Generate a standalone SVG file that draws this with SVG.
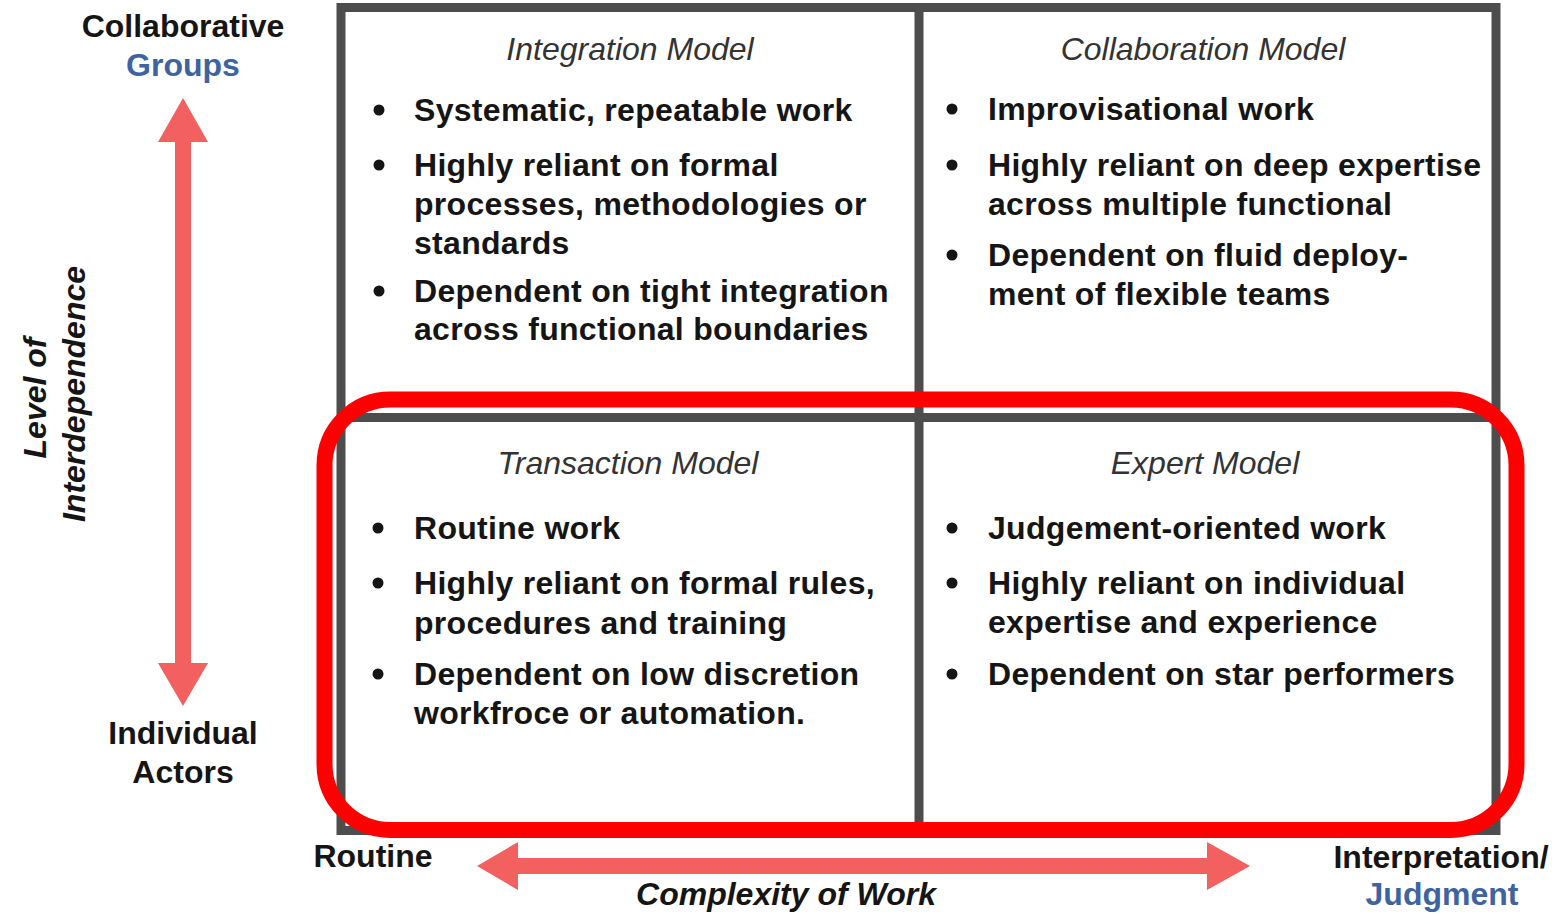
<svg xmlns="http://www.w3.org/2000/svg" width="1561" height="915" viewBox="0 0 1561 915">
<style>
.b{font-family:"Liberation Sans",Arial,sans-serif;font-weight:bold;font-size:32px;letter-spacing:0.3px;fill:#151515}
.t{font-family:"Liberation Sans",Arial,sans-serif;font-style:italic;font-size:32px;fill:#333;text-anchor:middle}
.lab{font-family:"Liberation Sans",Arial,sans-serif;font-weight:bold;font-size:32px;fill:#151515;text-anchor:middle}
.blue{fill:#3d63a0}
.ax{font-family:"Liberation Sans",Arial,sans-serif;font-weight:bold;font-style:italic;font-size:32px;fill:#151515;text-anchor:middle}
.dot{fill:#151515}
.grid{fill:none;stroke:#4d4d4d;stroke-width:9}
.arr{fill:#f26060}
</style>
<rect width="1561" height="915" fill="#fff"/>
<g id="grid">
<rect class="grid" x="341" y="7.5" width="1155" height="823"/>
<line class="grid" x1="919" y1="7" x2="919" y2="831"/>
<line class="grid" x1="341" y1="417.5" x2="1496" y2="417.5"/>
</g>
<g id="integration">
<text class="t" x="630" y="60">Integration Model</text>
<circle class="dot" cx="379" cy="110" r="5.5"/>
<text class="b" x="414" y="121">Systematic, repeatable work</text>
<circle class="dot" cx="379" cy="165" r="5.5"/>
<text class="b" x="414" y="176">Highly reliant on formal</text>
<text class="b" x="414" y="215">processes, methodologies or</text>
<text class="b" x="414" y="254">standards</text>
<circle class="dot" cx="379" cy="291" r="5.5"/>
<text class="b" x="414" y="302">Dependent on tight integration</text>
<text class="b" x="414" y="340">across functional boundaries</text>
</g>
<g id="collaboration">
<text class="t" x="1203" y="60">Collaboration Model</text>
<circle class="dot" cx="952" cy="109" r="5.5"/>
<text class="b" x="988" y="120">Improvisational work</text>
<circle class="dot" cx="952" cy="165" r="5.5"/>
<text class="b" x="988" y="176">Highly reliant on deep expertise</text>
<text class="b" x="988" y="215">across multiple functional</text>
<circle class="dot" cx="952" cy="255" r="5.5"/>
<text class="b" x="988" y="266">Dependent on fluid deploy-</text>
<text class="b" x="988" y="305">ment of flexible teams</text>
</g>
<g id="transaction">
<text class="t" x="628" y="474">Transaction Model</text>
<circle class="dot" cx="378" cy="528" r="5.5"/>
<text class="b" x="414" y="539">Routine work</text>
<circle class="dot" cx="378" cy="583" r="5.5"/>
<text class="b" x="414" y="594">Highly reliant on formal rules,</text>
<text class="b" x="414" y="634">procedures and training</text>
<circle class="dot" cx="378" cy="674" r="5.5"/>
<text class="b" x="414" y="685">Dependent on low discretion</text>
<text class="b" x="414" y="724">workfroce or automation.</text>
</g>
<g id="expert">
<text class="t" x="1205" y="474">Expert Model</text>
<circle class="dot" cx="952" cy="528" r="5.5"/>
<text class="b" x="988" y="539">Judgement-oriented work</text>
<circle class="dot" cx="952" cy="583" r="5.5"/>
<text class="b" x="988" y="594">Highly reliant on individual</text>
<text class="b" x="988" y="633">expertise and experience</text>
<circle class="dot" cx="952" cy="674" r="5.5"/>
<text class="b" x="988" y="685">Dependent on star performers</text>
</g>
<g id="axis-labels">
<text class="lab" x="183" y="37">Collaborative</text>
<text class="lab blue" x="183" y="76">Groups</text>
<text class="lab" x="183" y="744">Individual</text>
<text class="lab" x="183" y="783">Actors</text>
<text class="ax" transform="translate(46,398) rotate(-90)">Level of</text>
<text class="ax" transform="translate(85,394) rotate(-90)">Interdependence</text>
<text class="lab" x="373" y="867">Routine</text>
<text class="lab" x="1441" y="868">Interpretation/</text>
<text class="lab blue" x="1442" y="905">Judgment</text>
<text class="ax" x="786" y="905">Complexity of Work</text>
</g>
<g id="connectors">
<polygon class="arr" points="183,98 208,142 191,142 191,663 208,663 183,706 158,663 175,663 175,142 158,142"/>
<polygon class="arr" points="477,866 518,842 518,858 1207,858 1207,842 1250,866 1207,890 1207,874 518,874 518,890"/>
</g>
<g id="highlight">
<rect x="324.5" y="399.5" width="1192" height="430.5" rx="66" ry="66" fill="none" stroke="#ff0000" stroke-width="16"/>
</g>
</svg>
